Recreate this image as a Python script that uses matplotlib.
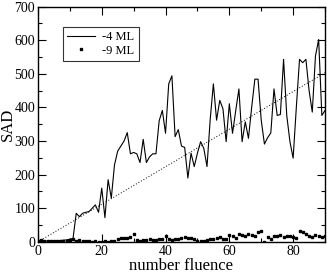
import matplotlib
matplotlib.use("Agg")
import matplotlib.pyplot as plt
import numpy as np

plt.rcParams['font.family'] = ['Liberation Serif', 'DejaVu Serif']

fluence = np.arange(0, 91)

# -4 ML, one value per fluence step
sad_4ml = [5, 3, 4, 2, 3, 4, 3, 4, 5, 6,
           8, 10, 85, 75, 85, 88, 90, 100, 110, 88,
           160, 72, 185, 130, 229, 270, 285, 300, 325, 262,
           266, 262, 236, 305, 236, 253, 262, 262, 360, 391,
           323, 470, 494, 313, 334, 285, 281, 190, 264, 224,
           264, 298, 278, 224, 364, 470, 362, 421, 396, 298,
           411, 323, 390, 455, 298, 357, 308, 400, 484, 484,
           362, 291, 310, 324, 455, 376, 379, 543, 376, 298,
           249, 400, 543, 533, 543, 450, 386, 553, 602, 376,
           391]

# -9 ML
sad_9ml = [3, 6, 3, 2, 3, 3, 2, 3, 3, 4,
           5, 8, 4, 5, 3, 2, 2, 1, 2, 1,
           1, 2, 1, 2, 3, 10, 12, 13, 12, 14,
           24, 5, 4, 7, 5, 8, 6, 5, 10, 8,
           18, 9, 7, 10, 8, 12, 14, 12, 11, 10,
           2, 3, 2, 5, 8, 10, 12, 14, 10, 8,
           20, 18, 12, 24, 20, 18, 22, 20, 16, 30,
           32, 0, 14, 10, 16, 18, 20, 14, 18, 16,
           14, 12, 32, 30, 22, 18, 14, 20, 16, 14,
           18]

# linear trend of -4 ML
fit_x = [0, 90]
fit_y = [0, 503]

fig = plt.figure(figsize=(3.27, 2.73), dpi=100)
ax = fig.add_axes([0.116, 0.114, 0.878, 0.862])

ax.plot(fluence, sad_4ml, color='black', lw=0.8, label='-4 ML')
ax.plot(fluence, sad_9ml, ls='none', marker='s', ms=1.5, mfc='black', mec='black',
        label='-9 ML')
ax.plot(fit_x, fit_y, color='black', lw=0.7, ls=(0, (1, 2)))

ax.set_xlim(0, 90)
ax.set_ylim(0, 700)
ax.set_xticks([0, 20, 40, 60, 80])
ax.set_xticks([10, 30, 50, 70, 90], minor=True)
ax.set_yticks(range(0, 701, 100))
ax.set_yticks(range(50, 701, 100), minor=True)
ax.tick_params(direction='in', which='both', top=True, right=True, labelsize=10, pad=2)
ax.tick_params(which='major', length=6, width=0.8)
ax.tick_params(which='minor', length=3, width=0.8)
for s in ax.spines.values():
    s.set_linewidth(1.0)

ax.set_xlabel('number fluence', fontsize=12, labelpad=0)
ax.set_ylabel('SAD', fontsize=12)
ax.yaxis.set_label_coords(-0.077, 0.5)

leg = ax.legend(loc='upper left', bbox_to_anchor=(0.065, 0.94), fontsize=9,
                frameon=True, fancybox=False, edgecolor='black', handlelength=2.2,
                borderpad=0.35, labelspacing=0.1, handletextpad=0.6, markerscale=1.2)
leg.get_frame().set_linewidth(0.8)

fig.savefig('out.png', dpi=100)
